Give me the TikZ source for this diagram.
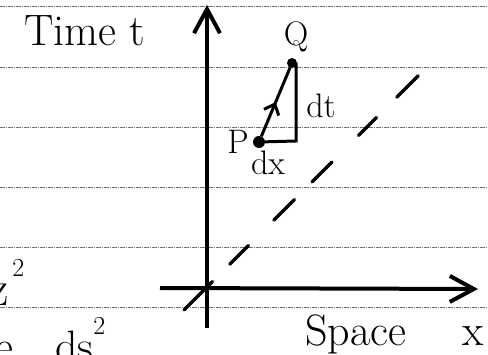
\documentclass[tikz,border=0pt]{standalone}
\usetikzlibrary{arrows.meta,decorations.markings}
\begin{document}
\begin{tikzpicture}[x=1pt,y=-1pt,
  rule/.style={black!55, line width=0.7pt, dash pattern=on 5pt off 1pt on 1pt off 1pt},
  axis/.style={line width=4pt, -{Straight Barb[length=24pt,width=26pt]}},
  lightcone/.style={line width=3.5pt, line cap=round,
    dash pattern=on 40pt off 25pt on 26pt off 36pt on 29pt off 25pt on 28pt off 38pt on 25pt off 29pt on 30pt off 60pt},
  tri/.style={line width=3pt},
  dot/.style={circle, fill, inner sep=0pt, minimum size=12pt},
  hand/.style={font=\fontsize{44}{44}\selectfont, inner sep=0pt},
  small/.style={font=\fontsize{34}{34}\selectfont, inner sep=0pt}]
\useasboundingbox (0,0) rectangle (488,355);
\clip (0,0) rectangle (488,355);
\fill[white] (0,0) rectangle (488,355);
% ruled lines of the paper
\foreach \yy in {6,67,127,187,247,307} \draw[rule] (0,\yy) -- (488,\yy);
% axes
\coordinate (tBot) at (207,328);
\coordinate (tTop) at (207,5);
\coordinate (xL) at (160,288);
\coordinate (xR) at (478,289);
\draw[axis] (tBot) -- (tTop);
\draw[axis] (xL) -- (xR);
% light cone (dashed diagonal)
\coordinate (d1) at (184,310);
\coordinate (d2) at (420,74);
\draw[lightcone] (d1) -- (d2);
% triangle P-Q
\node[dot] (P) at (259,142) {};
\node[dot, minimum size=10pt] (Q) at (292,63) {};
\coordinate (R) at (296,141);
\draw[tri] (P) -- (R) -- (R |- Q);
\draw[tri, postaction={decorate}, decoration={markings,
  mark=at position 0.5 with {\arrow[line width=3pt]{Straight Barb[length=9pt,width=16pt]}}}] (P) -- (Q);
% labels
\node[hand] (timeLabel) at (85,31) {Time t};
\node[small] (pLabel) at (238,142) {P};
\node[small] (qLabel) at (296,37) {Q};
\node[small] (dtLabel) at (321,106) {dt};
\node[small] (dxLabel) at (268,163) {dx};
\node[hand, anchor=base west] (spaceLabel) at (305,346) {Space};
\node[hand, anchor=base west] (xLabel) at (462,346) {x};
% cut-off fragments at the left edge
\node[anchor=base west, inner sep=0pt, font=\fontsize{50}{50}\selectfont] (zsq) at (-12,306)
  {z\hspace{4pt}\raisebox{29pt}{\fontsize{26}{26}\selectfont 2}};
\node[anchor=base west, inner sep=0pt, font=\fontsize{44}{44}\selectfont] (dssq) at (-5,362)
  {e\hspace{42pt}ds\raisebox{27pt}{\fontsize{26}{26}\selectfont 2}};
\end{tikzpicture}
\end{document}
